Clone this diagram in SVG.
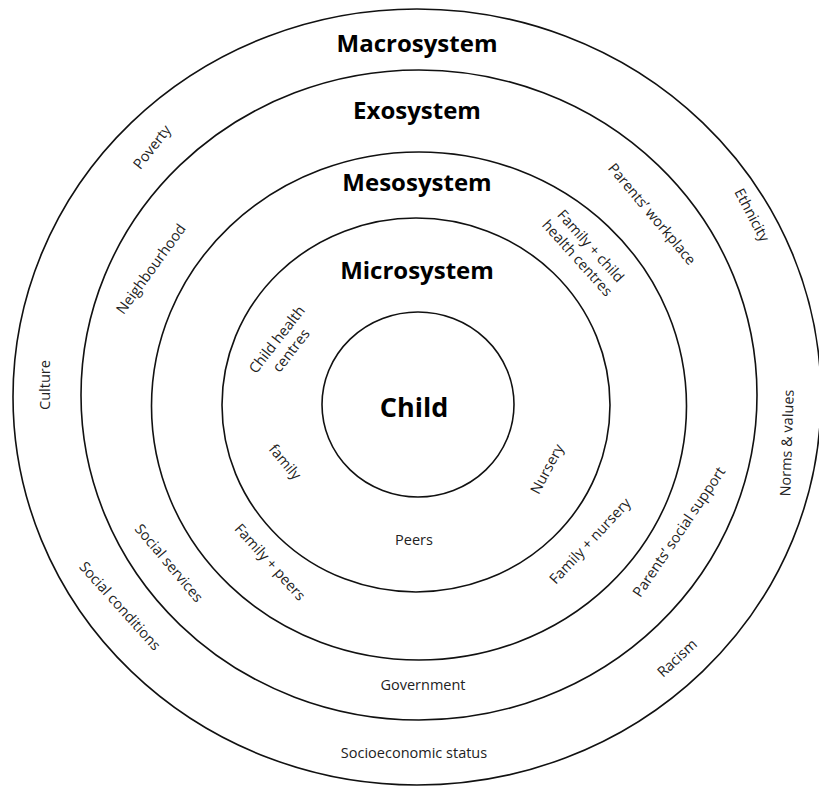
<svg xmlns="http://www.w3.org/2000/svg" width="819" height="787" viewBox="0 0 819 787">
<style>
.ring{fill:#fff;stroke:#111;stroke-width:1.6}
.title{font-family:"Open Sans","Liberation Sans",sans-serif;font-weight:bold;font-size:24px;fill:#000;text-anchor:middle}
.child{font-family:"Open Sans","Liberation Sans",sans-serif;font-weight:bold;font-size:27px;fill:#000;text-anchor:middle}
.lbl{font-family:"Open Sans","Liberation Sans",sans-serif;font-size:14.5px;fill:#222;text-anchor:middle}
</style>
<rect width="819" height="787" fill="#fff"/>
<g id="macrosystem">
<ellipse class="ring" cx="417" cy="397" rx="404" ry="388"/>
<text class="title" x="417" y="52">Macrosystem</text>
<text class="lbl" transform="translate(152,147) rotate(-52)" y="5">Poverty</text>
<text class="lbl" transform="translate(752,215) rotate(62)" y="5">Ethnicity</text>
<text class="lbl" transform="translate(45,385) rotate(-90)" y="5">Culture</text>
<text class="lbl" transform="translate(787,443) rotate(-88)" y="5">Norms &amp; values</text>
<text class="lbl" transform="translate(120,606) rotate(48)" y="5">Social conditions</text>
<text class="lbl" transform="translate(677,658) rotate(-43)" y="5">Racism</text>
<text class="lbl" x="414" y="758">Socioeconomic status</text>
</g>
<g id="exosystem">
<ellipse class="ring" cx="419" cy="395" rx="338" ry="325"/>
<text class="title" x="417" y="118.5">Exosystem</text>
<text class="lbl" transform="translate(151,269) rotate(-54)" y="5">Neighbourhood</text>
<text class="lbl" transform="translate(652,214) rotate(50)" y="5">Parents’ workplace</text>
<text class="lbl" transform="translate(169,563) rotate(50)" y="5">Social services</text>
<text class="lbl" transform="translate(679,532) rotate(-56)" y="5">Parents’ social support</text>
<text class="lbl" x="423" y="690">Government</text>
</g>
<g id="mesosystem">
<ellipse class="ring" cx="419" cy="406" rx="267.5" ry="254"/>
<text class="title" x="417" y="190.5">Mesosystem</text>
<text class="lbl" transform="translate(584,252) rotate(48)"><tspan x="0" y="-4">Family + child</tspan><tspan x="0" y="14">health centres</tspan></text>
<text class="lbl" transform="translate(270,562) rotate(48)" y="5">Family + peers</text>
<text class="lbl" transform="translate(590,541) rotate(-47)" y="5">Family + nursery</text>
</g>
<g id="microsystem">
<ellipse class="ring" cx="416" cy="405" rx="194" ry="187"/>
<text class="title" x="417" y="278.5">Microsystem</text>
<text class="lbl" transform="translate(284,345) rotate(-52)"><tspan x="0" y="-4">Child health</tspan><tspan x="0" y="14">centres</tspan></text>
<text class="lbl" transform="translate(285,462) rotate(50)" y="5">family</text>
<text class="lbl" transform="translate(547,469) rotate(-62)" y="5">Nursery</text>
<text class="lbl" x="414" y="545">Peers</text>
</g>
<g id="child">
<ellipse class="ring" cx="418" cy="404.5" rx="96" ry="92.5"/>
<text class="child" x="414" y="416.5">Child</text>
</g>
</svg>
